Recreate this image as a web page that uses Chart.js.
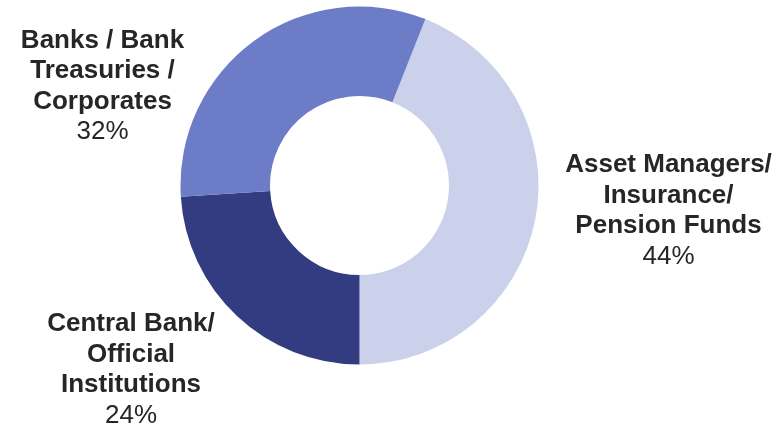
<!DOCTYPE html>
<html>
<head>
<meta charset="utf-8">
<script src="https://cdn.jsdelivr.net/npm/chart.js@4/dist/chart.umd.min.js"></script>
<style>
  html, body { margin: 0; padding: 0; background: #ffffff; }
  #wrap { width: 774px; height: 432px; }
</style>
</head>
<body>
<div id="wrap"><canvas id="c" width="774" height="432"></canvas></div>
<script>
// Investor groups, each name split into its printed lines
const categories = [
  ['Asset Managers/', 'Insurance/', 'Pension Funds'],
  ['Central Bank/', 'Official', 'Institutions'],
  ['Banks / Bank', 'Treasuries /', 'Corporates']
];
// Share of allocation, percent
const shares = [44, 24, 32];

const sliceColors = ['#CCD1EB', '#333C80', '#6D7CC7'];

// Label block placement relative to the ring centre: x of the text centre, y of the first baseline
const labelPlacement = [
  { dx: 309, dy: -13.5 },
  { dx: -228.5, dy: 145.5 },
  { dx: -257, dy: -138 }
];
const lineGap = 30.5;
const textColor = '#262626';
const fontFamily = '"Liberation Sans", Arial, sans-serif';

const ringLabels = {
  id: 'ringLabels',
  afterDatasetsDraw(chart) {
    const ctx = chart.ctx;
    const meta = chart.getDatasetMeta(0);
    const arc0 = meta.data[0];
    const cx = arc0.x, cy = arc0.y;
    ctx.save();
    ctx.fillStyle = textColor;
    ctx.textAlign = 'center';
    ctx.textBaseline = 'alphabetic';
    chart.data.labels.forEach((lines, i) => {
      const p = labelPlacement[i];
      const x = cx + p.dx;
      let y = cy + p.dy;
      ctx.font = 'bold 26px ' + fontFamily;
      lines.forEach(line => {
        ctx.fillText(line, x, y);
        y += lineGap;
      });
      ctx.font = '26px ' + fontFamily;
      ctx.fillText(chart.data.datasets[0].data[i] + '%', x, y);
    });
    ctx.restore();
  }
};

new Chart(document.getElementById('c'), {
  type: 'doughnut',
  data: {
    labels: categories,
    datasets: [{
      data: shares,
      backgroundColor: sliceColors,
      borderWidth: 0,
      hoverOffset: 0
    }]
  },
  options: {
    responsive: false,
    animation: false,
    rotation: 21.6,
    cutout: '50%',
    layout: { padding: { top: 6.5, bottom: 67.5, left: 0, right: 55 } },
    plugins: {
      legend: { display: false },
      tooltip: { enabled: false }
    }
  },
  plugins: [ringLabels]
});
</script>
</body>
</html>
